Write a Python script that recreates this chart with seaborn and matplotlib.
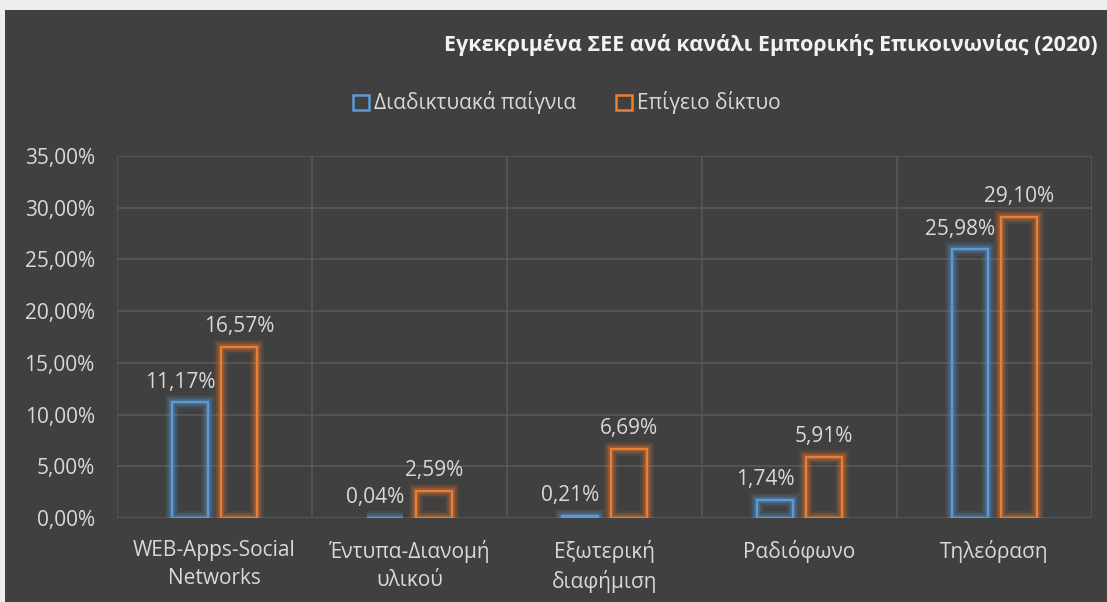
import matplotlib
matplotlib.use("Agg")
import matplotlib.pyplot as plt
import matplotlib.patheffects as pe
from matplotlib.patches import Rectangle
from matplotlib.ticker import FuncFormatter, MultipleLocator, FixedLocator
import seaborn as sns
import pandas as pd

categories = ["WEB-Apps-Social\nNetworks", "Έντυπα-Διανομή\nυλικού", "Εξωτερική\nδιαφήμιση",
              "Ραδιόφωνο", "Τηλεόραση"]
series_names = ["Διαδικτυακά παίγνια", "Επίγειο δίκτυο"]
online_games = [11.17, 0.04, 0.21, 1.74, 25.98]
terrestrial = [16.57, 2.59, 6.69, 5.91, 29.10]
title = "Εγκεκριμένα ΣΕΕ ανά κανάλι Εμπορικής Επικοινωνίας (2020)"

BG = "#404040"
GRID = "#585858"
TXT = "#D9D9D9"
BLUE = "#5B9BD5"
ORANGE = "#ED7D31"
FONT = "Open Sans"

df = pd.DataFrame({
    "cat": categories * 2,
    "series": [series_names[0]] * len(categories) + [series_names[1]] * len(categories),
    "value": online_games + terrestrial,
})

sns.set_theme(style="dark")
plt.rcParams["font.family"] = [FONT, "DejaVu Sans"]

fig = plt.figure(figsize=(11.07, 6.02), dpi=100)
fig.patch.set_facecolor("#EDEDED")
fig.patches.append(Rectangle((5 / 1107, 0), 1, 1 - 10 / 602, transform=fig.transFigure,
                             facecolor=BG, edgecolor="none", zorder=-10))

ax = fig.add_axes([117 / 1107, 1 - 518 / 602, (1092 - 117) / 1107, (518 - 156) / 602])
ax.set_zorder(1)
ax.set_facecolor(BG)

sns.barplot(data=df, x="cat", y="value", hue="series", hue_order=series_names,
            palette=[BLUE, ORANGE], width=0.503, gap=0.26, errorbar=None,
            ax=ax, legend=False, zorder=3)

colors = [BLUE] * len(categories) + [ORANGE] * len(categories)
for p, c in zip(ax.patches, colors):
    p.set_facecolor("none")
    p.set_edgecolor(c)
    p.set_linewidth(1.6)
    p.set_path_effects([
        pe.Stroke(linewidth=10, foreground=c, alpha=0.10),
        pe.Stroke(linewidth=7, foreground=c, alpha=0.18),
        pe.Stroke(linewidth=4, foreground=c, alpha=0.30),
        pe.Normal(),
    ])

# data labels
for p, c in zip(ax.patches, colors):
    v = p.get_height()
    dx = -7 if c == BLUE else 0
    ax.annotate(f"{v:.2f}%".replace(".", ","), (p.get_x() + p.get_width() / 2, v),
                xytext=(dx, 7), textcoords="offset points", ha="center", va="bottom",
                color=TXT, fontsize=15, zorder=5)

ax.set_ylim(0, 35)
ax.set_xlim(-0.5, len(categories) - 0.5)
ax.yaxis.set_major_locator(MultipleLocator(5))
ax.yaxis.set_major_formatter(FuncFormatter(lambda v, _: f"{v:.2f}%".replace(".", ",")))
ax.xaxis.set_minor_locator(FixedLocator([i - 0.5 for i in range(len(categories) + 1)]))
ax.grid(True, which="major", axis="y", color=GRID, linewidth=1.2, zorder=0)
ax.grid(True, which="minor", axis="x", color=GRID, linewidth=1.2, zorder=0)
ax.grid(False, which="major", axis="x")
ax.set_axisbelow(True)
for s in ax.spines.values():
    s.set_visible(False)
ax.tick_params(axis="y", length=0, pad=16, labelcolor=TXT, labelsize=15)
ax.tick_params(axis="x", which="both", length=0, pad=16, labelcolor=TXT, labelsize=15)
for lbl in ax.get_xticklabels():
    lbl.set_linespacing(1.4)
ax.set_xlabel("")
ax.set_ylabel("")

fig.text(444 / 1107, 1 - 45 / 602, title, ha="left", va="center", fontsize=15.5,
         fontweight="bold", color="#F2F2F2")

handles = [Rectangle((0, 0), 1, 1, facecolor="none", edgecolor=BLUE, linewidth=1.8),
           Rectangle((0, 0), 1, 1, facecolor="none", edgecolor=ORANGE, linewidth=1.8)]
leg = fig.legend(handles, series_names, loc="center", bbox_to_anchor=(567 / 1107, 1 - 103 / 602),
                 ncol=2, frameon=False, fontsize=15, handlelength=0.75, handleheight=0.75,
                 handletextpad=0.25, columnspacing=1.9)
for t in leg.get_texts():
    t.set_color(TXT)

fig.savefig("out.png", dpi=100, facecolor=fig.get_facecolor())
